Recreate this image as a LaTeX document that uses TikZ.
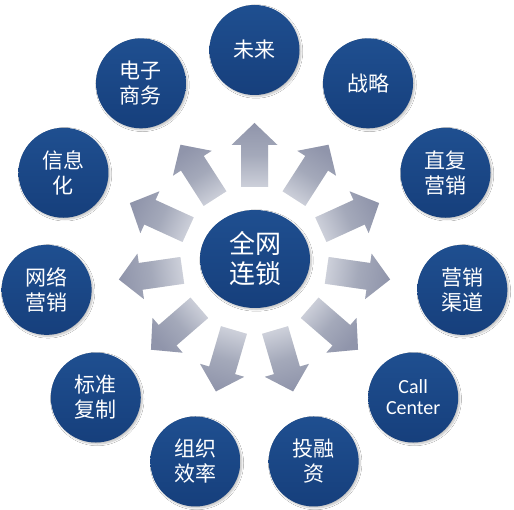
\documentclass[tikz,border=0pt]{standalone}
\usepackage{fontspec}
\newfontfamily\cjk{Noto Sans CJK SC}
\newfontfamily\latinf{Carlito}
\usetikzlibrary{shapes.geometric,shadows.blur,calc}
\tikzset{
  bubble/.style={circle, minimum size=90pt, inner sep=0pt, text=white,
    top color=blueA, bottom color=blueB,
    blur shadow={shadow xshift=1.5pt, shadow yshift=-1.5pt, shadow opacity=25, shadow blur steps=6},
    font=\cjk\fontsize{21}{25}\selectfont, align=center},
  hub/.style={ellipse, minimum width=110pt, minimum height=98pt, inner sep=0pt, text=white,
    top color=blueA, bottom color=blueB,
    blur shadow={shadow xshift=1.5pt, shadow yshift=-1.5pt, shadow opacity=25, shadow blur steps=6},
    font=\cjk\fontsize{26}{30}\selectfont, align=center},
  blockarrow/.style={draw=none, top color=arrowTip, bottom color=arrowBase, middle color=arrowMid},
  arrowshadow/.style={fill=black, opacity=0.07}
}
\definecolor{blueA}{HTML}{1F4F90}
\definecolor{blueB}{HTML}{163F7C}
\definecolor{arrowTip}{HTML}{9095AB}
\definecolor{arrowMid}{HTML}{A4A9BA}
\definecolor{arrowBase}{HTML}{CDD0DA}
\begin{document}
\begin{tikzpicture}[x=1pt,y=1pt]
\useasboundingbox (0,0) rectangle (514,510);
\fill[white] (0,0) rectangle (514,510);
\coordinate (o) at (254.5,250);
% arrows
\foreach \k in {0,...,10}{
  \pgfmathsetmacro{\t}{90-\k*360/11}
  \pgfmathsetmacro{\sa}{\t-90}
  \fill[arrowshadow, shift={(1.5,-1.5)}]
    ($(o)+(\t:73)+(\t+90:13.5)$) --
    ($(o)+(\t:115)+(\t+90:13.5)$) --
    ($(o)+(\t:115)+(\t+90:23)$) --
    ($(o)+(\t:137)$) --
    ($(o)+(\t:115)+(\t-90:23)$) --
    ($(o)+(\t:115)+(\t-90:13.5)$) --
    ($(o)+(\t:73)+(\t-90:13.5)$) -- cycle;
  \shade[blockarrow, shading angle=\sa]
    ($(o)+(\t:73)+(\t+90:13.5)$) --
    ($(o)+(\t:115)+(\t+90:13.5)$) --
    ($(o)+(\t:115)+(\t+90:23)$) --
    ($(o)+(\t:137)$) --
    ($(o)+(\t:115)+(\t-90:23)$) --
    ($(o)+(\t:115)+(\t-90:13.5)$) --
    ($(o)+(\t:73)+(\t-90:13.5)$) -- cycle;
}
% hub
\node[hub] (hub) at (255,251) {全网\\连锁};
% outer circles
\node[bubble] (c0) at ($(o)+(90:210)$) {未来};
\node[bubble] (c1) at ($(o)+({90-1*360/11}:210)$) {战略};
\node[bubble] (c2) at ($(o)+({90-2*360/11}:210)$) {直复\\营销};
\node[bubble] (c3) at ($(o)+({90-3*360/11}:210)$) {营销\\渠道};
\node[bubble, font=\latinf\fontsize{20}{21}\selectfont] (c4) at ($(o)+({90-4*360/11}:210)$) {Call\\Center};
\node[bubble] (c5) at ($(o)+({90-5*360/11}:210)$) {投融\\资};
\node[bubble] (c6) at ($(o)+({90-6*360/11}:210)$) {组织\\效率};
\node[bubble] (c7) at ($(o)+({90-7*360/11}:210)$) {标准\\复制};
\node[bubble] (c8) at ($(o)+({90-8*360/11}:210)$) {网络\\营销};
\node[bubble] (c9) at ($(o)+({90-9*360/11}:210)$) {信息\\化};
\node[bubble] (c10) at ($(o)+({90-10*360/11}:210)$) {电子\\商务};
\end{tikzpicture}
\end{document}
